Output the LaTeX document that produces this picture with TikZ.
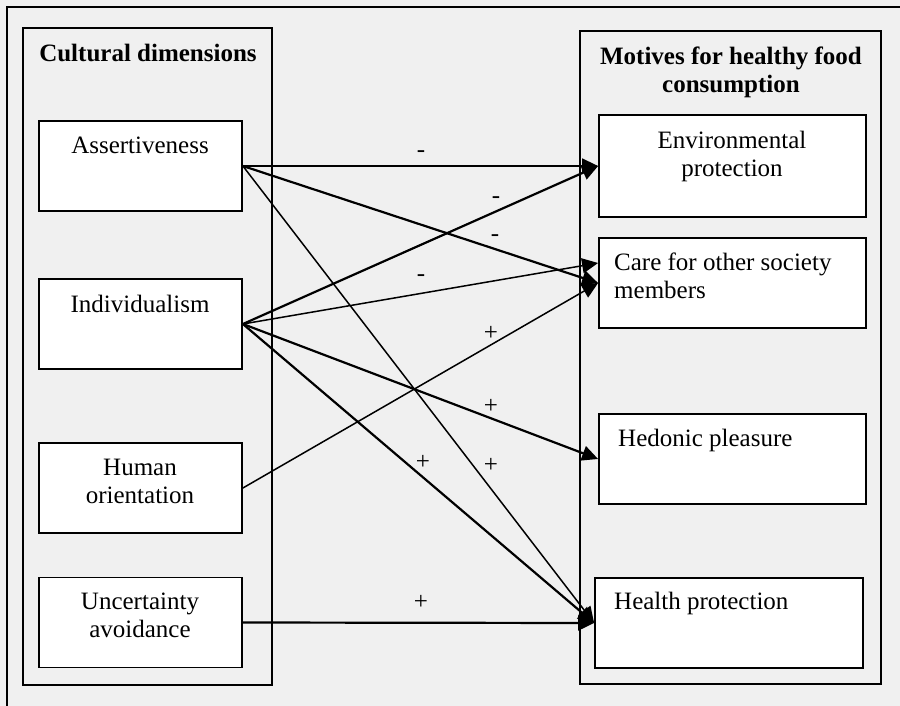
\documentclass[tikz,border=0pt]{standalone}
\usepackage{fontspec}
\setmainfont{Liberation Serif}
\usetikzlibrary{arrows.meta,calc}
\definecolor{paper}{HTML}{F0F0F0}
\begin{document}
\begin{tikzpicture}[x=1pt,y=-1pt,
  panel/.style={draw,line width=1.8pt,rectangle,inner sep=0pt},
  item/.style={draw,fill=white,line width=1.8pt,rectangle,inner sep=0pt,
    minimum width=203pt,minimum height=90pt},
  motive/.style={item,minimum width=267pt},
  txt/.style={font=\fontsize{25}{28}\selectfont,inner sep=0pt},
  head/.style={txt,font=\fontsize{25}{28}\selectfont\bfseries},
  sign/.style={txt},
  link/.style={-{Triangle[length=16pt,width=15pt]},line width=1.5pt},
  heavy/.style={link,line width=2.2pt}
]
% page background and outer frame (top and left edges)
\fill[paper] (0,0) rectangle (900,706);
\useasboundingbox (0,0) rectangle (900,706);
\draw[line width=1.8pt] (900,7) -- (7,7) -- (7,706);

% the two groups
\node[panel,minimum width=249pt,minimum height=657pt] (left) at (147.5,356.5) {};
\node[panel,minimum width=301pt,minimum height=653pt] (right) at (730.5,357.5) {};
\node[head,anchor=base] (lefthead) at (148,62) {Cultural dimensions};
\node[head,anchor=north,align=center] (righthead) at (731,47) {Motives for healthy food\\consumption};

% cultural dimensions
\node[item] (assert) at (140.5,166) {};
\node[item] (indiv) at (140.5,324) {};
\node[item] (human) at (140.5,488) {};
\node[item] (uncert) at (140.5,622.5) {};
\node[txt,anchor=base] at (140,154) {Assertiveness};
\node[txt,anchor=base] at (140,312) {Individualism};
\node[txt,anchor=north,align=center] at (140,459) {Human\\orientation};
\node[txt,anchor=north,align=center] at (140,593) {Uncertainty\\avoidance};

% motives
\node[motive,minimum height=102pt] (env) at (732.5,166) {};
\node[motive] (care) at (732.5,283) {};
\node[motive] (hedon) at (732.5,459) {};
\node[motive,minimum width=268pt] (health) at (729,623) {};
\node[txt,anchor=north,align=center] at (732,131) {Environmental\\protection};
\node[txt,anchor=north west,align=left] at (614,253) {Care for other society\\members};
\node[txt,anchor=base west] at (618,446) {Hedonic pleasure};
\node[txt,anchor=base west] at (614,609) {Health protection};

% relations
\draw[link] (assert.east) -- (env.west);
\draw[heavy] (assert.east) -- (care.west);
\draw[link] (assert.east) -- (health.west);
\draw[heavy] (indiv.east) -- (env.west);
\draw[link] (indiv.east) -- ([yshift=20pt]care.west);
\draw[heavy] (indiv.east) -- (hedon.west);
\draw[heavy] (indiv.east) -- (health.west);
\draw[link] (human.east) -- (care.west);
\draw[heavy] (uncert.east) -- (health.west);

% signs of the relations
\node[sign] at (421,154) {-};
\node[sign] at (496,200) {-};
\node[sign] at (495,238) {-};
\node[sign] at (421,278) {-};
\node[sign] at (491,333) {+};
\node[sign] at (491,406) {+};
\node[sign] at (423,462) {+};
\node[sign] at (491,465) {+};
\node[sign] at (421,602) {+};
\end{tikzpicture}
\end{document}
